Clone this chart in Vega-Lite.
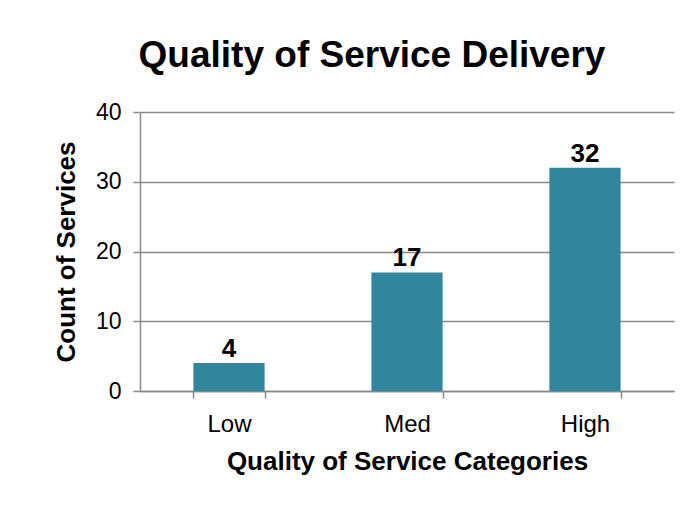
{
  "$schema": "https://vega.github.io/schema/vega-lite/v6.json",
  "autosize": {"type": "none"},
  "width": 534,
  "height": 279,
  "padding": {"left": 140, "top": 112, "right": 23, "bottom": 136},
  "background": "white",
  "title": {
    "text": "Quality of Service Delivery",
    "font": "Liberation Sans",
    "fontSize": 37,
    "fontWeight": "bold",
    "color": "#000000",
    "anchor": "middle",
    "dx": -35,
    "offset": 26
  },
  "config": {
    "view": {"stroke": null},
    "font": "Liberation Sans"
  },
  "data": {
    "values": [
      {"category": "Low", "count": 4},
      {"category": "Med", "count": 17},
      {"category": "High", "count": 32}
    ]
  },
  "encoding": {
    "x": {
      "field": "category",
      "type": "nominal",
      "sort": ["Low", "Med", "High"],
      "scale": {"paddingInner": 0.6, "paddingOuter": 0.3},
      "axis": {
        "title": "Quality of Service Categories",
        "titleFont": "Liberation Sans",
        "titleFontSize": 26,
        "titleFontWeight": "bold",
        "titleColor": "#000000",
        "titlePadding": 12,
        "labelAngle": 0,
        "labelFont": "Liberation Sans",
        "labelFontSize": 24,
        "labelColor": "#000000",
        "labelPadding": 14,
        "tickBand": "extent",
        "tickSize": 7,
        "tickColor": "#888888",
        "tickWidth": 1.5,
        "domainColor": "#888888",
        "domainWidth": 1.5,
        "grid": false
      }
    },
    "y": {
      "field": "count",
      "type": "quantitative",
      "scale": {"domain": [0, 40]},
      "axis": {
        "title": "Count of Services",
        "titleFont": "Liberation Sans",
        "titleFontSize": 26,
        "titleFontWeight": "bold",
        "titleColor": "#000000",
        "titlePadding": 16,
        "values": [0, 10, 20, 30, 40],
        "labelFont": "Liberation Sans",
        "labelFontSize": 23,
        "labelColor": "#000000",
        "labelPadding": 12,
        "tickSize": 7,
        "tickColor": "#888888",
        "tickWidth": 1.5,
        "domainColor": "#888888",
        "domainWidth": 1.5,
        "grid": true,
        "gridColor": "#888888",
        "gridWidth": 1.5
      }
    }
  },
  "layer": [
    {"mark": {"type": "bar", "color": "#31859C"}},
    {
      "mark": {
        "type": "text",
        "baseline": "bottom",
        "dy": -1,
        "font": "Liberation Sans",
        "fontSize": 26,
        "fontWeight": "bold",
        "color": "#000000"
      },
      "encoding": {"text": {"field": "count", "type": "quantitative"}}
    }
  ]
}
